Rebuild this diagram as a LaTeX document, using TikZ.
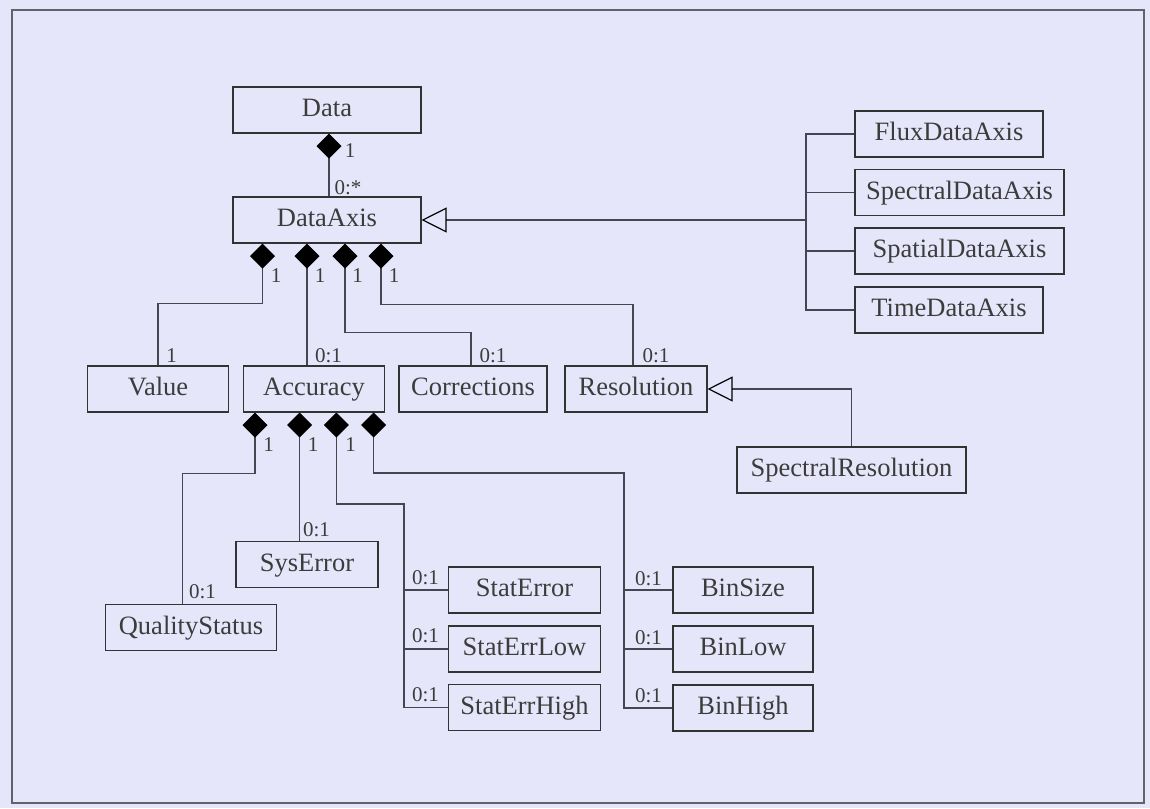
\documentclass[tikz,border=0pt]{standalone}
\usepackage{fontspec}
\setmainfont{Liberation Serif}
\usetikzlibrary{arrows.meta}
\definecolor{umlback}{RGB}{230,230,250}
\definecolor{umlline}{RGB}{70,70,80}
\definecolor{umltext}{RGB}{60,60,60}

\begin{document}
\begin{tikzpicture}[x=1pt, y=-1pt]
    % Define styles
    \tikzstyle{classbox} = [rectangle, draw=black!80, line width=1.1pt, text=umltext, minimum height=46pt, inner sep=0pt, text height=18pt, text depth=5pt, font=\fontsize{26.5}{28}\selectfont]
    \tikzstyle{link} = [umlline, line width=1.2pt]
    \tikzstyle{comp} = [link, -{Diamond[length=25pt, width=25pt, black]}]
    \tikzstyle{gen} = [link, -{Triangle[open, length=25pt, width=25pt, black]}]
    \tikzstyle{mult} = [text=umltext, inner sep=0pt, font=\fontsize{21}{22}\selectfont]

    % Frame
    \fill[umlback] (0,0) rectangle (1150,808);
    \draw[umlline!85, line width=1.5pt] (12,10) rectangle (1144,803);
    \useasboundingbox (0,0) rectangle (1150,808);

    % Nodes
    \node (data) [classbox, minimum width=188pt] at (327,110) {Data};
    \node (dataaxis) [classbox, minimum width=188pt] at (327,220) {DataAxis};
    \node (flux) [classbox, minimum width=188pt] at (949,134) {FluxDataAxis};
    \node (spectral) [classbox, minimum width=209pt] at (959.5,192.5) {SpectralDataAxis};
    \node (spatial) [classbox, minimum width=209pt] at (959.5,251) {SpatialDataAxis};
    \node (time) [classbox, minimum width=188pt] at (949,310) {TimeDataAxis};
    \node (value) [classbox, minimum width=141pt] at (158,389) {Value};
    \node (accuracy) [classbox, minimum width=141pt] at (314,389) {Accuracy};
    \node (corrections) [classbox, minimum width=148pt] at (473,389) {Corrections};
    \node (resolution) [classbox, minimum width=142pt] at (636,389) {Resolution};
    \node (specres) [classbox, minimum width=229pt] at (851.5,470) {SpectralResolution};
    \node (quality) [classbox, minimum width=171pt] at (191,627.5) {QualityStatus};
    \node (syserr) [classbox, minimum width=142pt] at (307,564.5) {SysError};
    \node (staterr) [classbox, minimum width=152pt] at (524.5,590) {StatError};
    \node (statlow) [classbox, minimum width=152pt] at (524.5,649) {StatErrLow};
    \node (stathigh) [classbox, minimum width=152pt] at (524.5,707.5) {StatErrHigh};
    \node (binsize) [classbox, minimum width=140pt] at (743,590) {BinSize};
    \node (binlow) [classbox, minimum width=140pt] at (743,649) {BinLow};
    \node (binhigh) [classbox, minimum width=140pt] at (743,708) {BinHigh};

    % Attachment points
    \coordinate (da1) at ([xshift=-64.5pt]dataaxis.south);
    \coordinate (da2) at ([xshift=-20pt]dataaxis.south);
    \coordinate (da3) at ([xshift=18pt]dataaxis.south);
    \coordinate (da4) at ([xshift=54pt]dataaxis.south);
    \coordinate (ac1) at ([xshift=-59pt]accuracy.south);
    \coordinate (ac2) at ([xshift=-14.4pt]accuracy.south);
    \coordinate (ac3) at ([xshift=22.4pt]accuracy.south);
    \coordinate (ac4) at ([xshift=59.6pt]accuracy.south);
    \coordinate (genjoin) at (806,220);
    \coordinate (statjoin) at (404,504);
    \coordinate (binjoin) at (624,473);

    % Arrows
    \draw [comp] ([xshift=2pt]dataaxis.north) -- ([xshift=2pt]data.south);
    \draw [comp] (value.north) |- ([yshift=-60pt]da1) -- (da1);
    \draw [comp] (da2 |- accuracy.north) -- (da2);
    \draw [comp] ([xshift=-2pt]corrections.north) |- ([yshift=-89pt]da3) -- (da3);
    \draw [comp] ([xshift=-3pt]resolution.north) |- ([yshift=-61pt]da4) -- (da4);
    \draw [comp] ([xshift=-8.5pt]quality.north) |- ([yshift=-61pt]ac1) -- (ac1);
    \draw [comp] (ac2 |- syserr.north) -- (ac2);
    \draw [comp] (stathigh.west) -| (statjoin) -| (ac3);
    \draw [link] (staterr.west) -- (staterr.west -| statjoin);
    \draw [link] (statlow.west) -- (statlow.west -| statjoin);
    \draw [comp] (binhigh.west) -| (binjoin) -| (ac4);
    \draw [link] (binsize.west) -- (binsize.west -| binjoin);
    \draw [link] (binlow.west) -- (binlow.west -| binjoin);
    \draw [gen] (genjoin) -- (dataaxis.east);
    \draw [link] (flux.west) -| (genjoin) |- (time.west);
    \draw [link] (spectral.west) -- (spectral.west -| genjoin);
    \draw [link] (spatial.west) -- (spatial.west -| genjoin);
    \draw [gen] (specres.north) |- (resolution.east);

    % Multiplicities
    \node (m1) [mult] at (350,151) {1};
    \node (m2) [mult] at (348,188) {0:*};
    \node (m3) [mult] at (276,276) {1};
    \node (m4) [mult] at (320,276) {1};
    \node (m5) [mult] at (357.5,276) {1};
    \node (m6) [mult] at (394,276) {1};
    \node (m7) [mult] at (171.5,356) {1};
    \node (m8) [mult] at (328.5,356) {0:1};
    \node (m9) [mult] at (493,356) {0:1};
    \node (m10) [mult] at (656,356) {0:1};
    \node (m11) [mult] at (268.5,445) {1};
    \node (m12) [mult] at (313,445) {1};
    \node (m13) [mult] at (350.5,445) {1};
    \node (m14) [mult] at (202.5,592) {0:1};
    \node (m15) [mult] at (316.5,530) {0:1};
    \node (m16) [mult] at (425.5,577.5) {0:1};
    \node (m17) [mult] at (425.5,636) {0:1};
    \node (m18) [mult] at (425.5,695) {0:1};
    \node (m19) [mult] at (648.5,578.5) {0:1};
    \node (m20) [mult] at (648.5,637.5) {0:1};
    \node (m21) [mult] at (648.5,696) {0:1};
\end{tikzpicture}
\end{document}
